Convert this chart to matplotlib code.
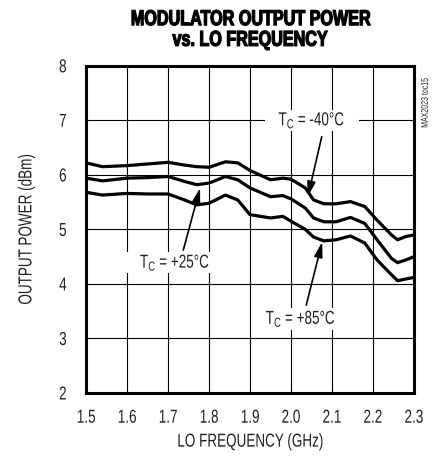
import matplotlib
matplotlib.use('Agg')
import matplotlib.pyplot as plt
from matplotlib import patheffects
from matplotlib.text import Text
from matplotlib.transforms import Affine2D

# ---- data ----
freq = [1.50, 1.54, 1.60, 1.65, 1.70, 1.74, 1.77, 1.80, 1.84, 1.87, 1.90, 1.95, 1.98,
        2.00, 2.035, 2.055, 2.08, 2.11, 2.145, 2.18, 2.21, 2.245, 2.26, 2.28, 2.30]
p_m40 = [6.22, 6.15, 6.17, 6.20, 6.23, 6.18, 6.15, 6.14, 6.24, 6.22, 6.08, 5.91, 5.94,
         5.92, 5.76, 5.54, 5.47, 5.47, 5.51, 5.42, 5.17, 4.90, 4.81, 4.87, 4.90]
p_p25 = [5.94, 5.89, 5.94, 5.95, 5.97, 5.88, 5.82, 5.85, 5.97, 5.91, 5.76, 5.60, 5.62,
         5.56, 5.39, 5.21, 5.14, 5.14, 5.22, 5.11, 4.81, 4.47, 4.39, 4.44, 4.50]
p_p85 = [5.68, 5.63, 5.66, 5.65, 5.65, 5.54, 5.45, 5.48, 5.63, 5.54, 5.27, 5.21, 5.24,
         5.15, 5.00, 4.86, 4.79, 4.81, 4.88, 4.75, 4.44, 4.17, 4.06, 4.09, 4.12]

xticks = [1.5, 1.6, 1.7, 1.8, 1.9, 2.0, 2.1, 2.2, 2.3]
xticklabels = ['1.5', '1.6', '1.7', '1.8', '1.9', '2.0', '2.1', '2.2', '2.3']
yticks = [2, 3, 4, 5, 6, 7, 8]


class Narrow(patheffects.AbstractPathEffect):
    """squeeze glyphs sideways (no condensed Helvetica available)"""
    def __init__(self, sx=0.72, stroke=0.0):
        super().__init__()
        self.sx = sx
        self.stroke = stroke

    def draw_path(self, renderer, gc, tpath, affine, rgbFace=None):
        ext = tpath.get_extents()
        cx = (ext.x0 + ext.x1) / 2
        t = Affine2D().translate(-cx, 0).scale(self.sx, 1).translate(cx, 0) + affine
        if self.stroke:
            gc0 = renderer.new_gc()
            gc0.copy_properties(gc)
            gc0.set_linewidth(self.stroke)
            gc0.set_foreground(rgbFace)
            renderer.draw_path(gc0, tpath, t, rgbFace)
            gc0.restore()
        else:
            renderer.draw_path(gc, tpath, t, rgbFace)


plt.rcParams.update({'font.family': ['Liberation Sans', 'DejaVu Sans'],
                     'mathtext.fontset': 'custom',
                     'mathtext.rm': 'Liberation Sans',
                     'mathtext.it': 'Liberation Sans',
                     'text.color': '#222222'})

fig = plt.figure(figsize=(4.33, 4.57), dpi=100)
ax = fig.add_axes([0.199, 0.140, 0.757, 0.716])

for p in (p_m40, p_p25, p_p85):
    ax.plot(freq, p, color='black', linewidth=2.3, zorder=3, solid_capstyle='butt')

ax.set_xlim(1.5, 2.3)
ax.set_ylim(2, 8)
ax.set_xticks(xticks)
ax.set_xticklabels(xticklabels)
ax.set_yticks(yticks)
ax.tick_params(length=0, labelsize=13.5, colors='#222222')
ax.tick_params(axis='x', pad=12)
ax.tick_params(axis='y', pad=13)
ax.grid(True, color='black', linewidth=0.8, zorder=1)
for s in ax.spines.values():
    s.set_linewidth(2.2)

ax.set_xlabel('LO FREQUENCY (GHz)', fontsize=13.5, labelpad=5, color='#222222')
ax.set_ylabel('OUTPUT POWER (dBm)', fontsize=13.5, labelpad=16, color='#222222')

title = fig.text(0.577, 0.980, 'MODULATOR OUTPUT POWER\nvs. LO FREQUENCY', ha='center',
                 va='top', fontsize=15.5, fontweight='bold', linespacing=0.98, color='black')

fig.text(0.981, 0.850, 'MAX2023 toc15', rotation=90, ha='center', va='top', fontsize=7)

box = dict(facecolor='white', edgecolor='none', pad=0.5)
arrow = dict(arrowstyle='-|>,head_length=0.9,head_width=0.25', color='black', lw=1.2,
             shrinkA=0, shrinkB=0)

ax.text(2.051, 7.0, 'T$_C$ = -40°C', ha='center', va='center', fontsize=13.5, bbox=box, zorder=4)
ax.annotate('', xy=(2.041, 5.60), xytext=(2.075, 6.70), arrowprops=arrow, zorder=5)

ax.text(1.717, 4.39, 'T$_C$ = +25°C', ha='center', va='center', fontsize=13.5, bbox=box, zorder=4)
ax.annotate('', xy=(1.778, 5.76), xytext=(1.737, 4.62), arrowprops=arrow, zorder=5)

ax.text(2.024, 3.36, 'T$_C$ = +85°C', ha='center', va='center', fontsize=13.5, bbox=box, zorder=4)
ax.annotate('', xy=(2.076, 4.77), xytext=(2.037, 3.61), arrowprops=arrow, zorder=5)

for t in fig.findobj(Text):
    t.set_path_effects([Narrow(0.72)])
title.set_path_effects([Narrow(0.75, stroke=0.9)])

fig.savefig('out.png', dpi=100)
